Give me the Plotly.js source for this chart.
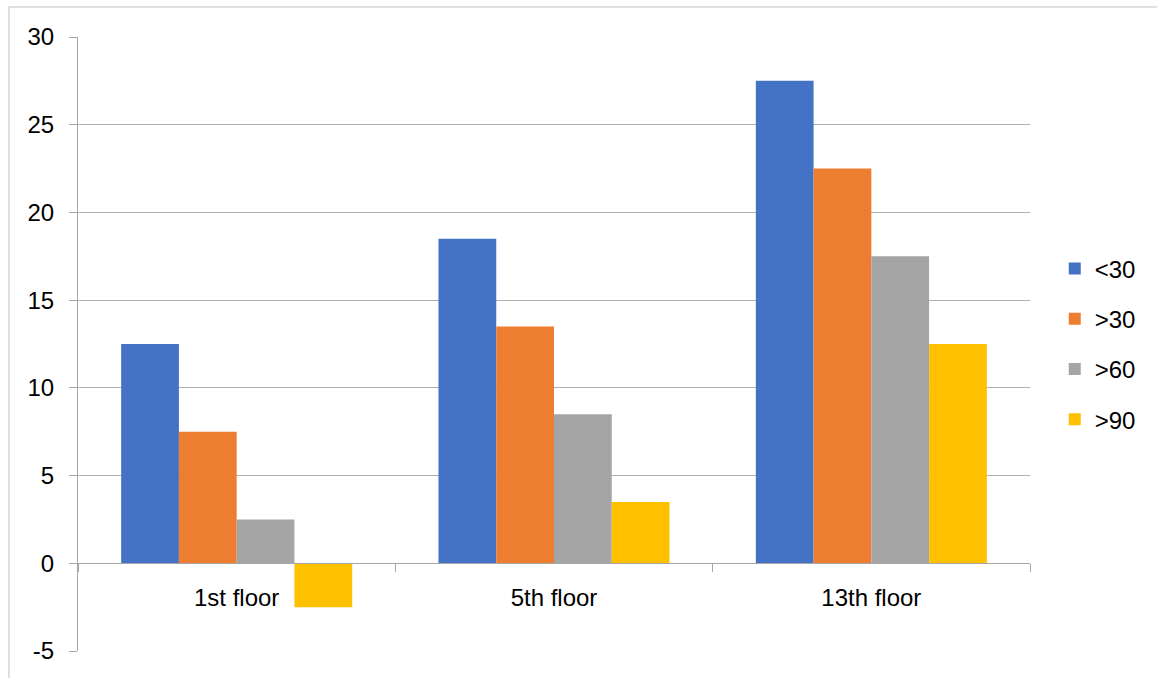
<!DOCTYPE html>
<html>
<head>
<meta charset="utf-8">
<script src="https://cdn.plot.ly/plotly-3.0.1.min.js"></script>
<style>
html,body{margin:0;padding:0;background:#fff;}
#chart{width:1157px;height:678px;}
</style>
</head>
<body>
<div id="chart"></div>
<script>
const categories = ["1st floor", "5th floor", "13th floor"];
const seriesNames = ["<30", ">30", ">60", ">90"];
const seriesLt30 = [12.5, 18.5, 27.5];
const seriesGt30 = [7.5, 13.5, 22.5];
const seriesGt60 = [2.5, 8.5, 17.5];
const seriesGt90 = [-2.5, 3.5, 12.5];
const colors = ["#4472C4", "#ED7D31", "#A5A5A5", "#FFC000"];
const yTicks = [-5, 0, 5, 10, 15, 20, 25, 30];

const allSeries = [seriesLt30, seriesGt30, seriesGt60, seriesGt90];
const traces = allSeries.map((vals, i) => ({
  type: "bar",
  name: seriesNames[i],
  x: categories,
  y: vals,
  marker: {color: colors[i], line: {width: 0}},
  legendgroup: "g" + i,
  hoverinfo: "x+y+name"
}));

const fontFam = "Liberation Sans, Arial, sans-serif";
const layout = {
  width: 1157,
  height: 678,
  margin: {l: 78, r: 127, t: 37, b: 27, pad: 0},
  paper_bgcolor: "#ffffff",
  plot_bgcolor: "#ffffff",
  barmode: "group",
  bargap: 0.272,
  bargroupgap: 0,
  font: {family: fontFam, size: 24, color: "#000000"},
  showlegend: true,
  legend: {
    x: 1.026, xanchor: "left",
    y: 0.5, yanchor: "middle",
    traceorder: "grouped",
    tracegroupgap: 16,
    font: {family: fontFam, size: 24, color: "#000"},
    itemwidth: 30,
    bgcolor: "rgba(0,0,0,0)"
  },
  xaxis: {
    type: "category",
    anchor: "free",
    position: 5 / 35,
    showline: true,
    linecolor: "#A6A6A6",
    linewidth: 1,
    ticks: "outside",
    tickson: "boundaries",
    ticklen: 8,
    tickcolor: "#A6A6A6",
    showgrid: false,
    zeroline: false,
    tickfont: {family: fontFam, size: 24, color: "#000"},
    ticklabelstandoff: 13
  },
  yaxis: {
    range: [-5, 30],
    tickvals: yTicks,
    ticktext: yTicks.map(String),
    showline: true,
    linecolor: "#A6A6A6",
    linewidth: 1,
    ticks: "outside",
    ticklen: 8,
    tickcolor: "#A6A6A6",
    showgrid: true,
    gridcolor: "#B0B0B0",
    gridwidth: 1,
    zeroline: false,
    tickfont: {family: fontFam, size: 24, color: "#000"},
    ticklabelstandoff: 10
  },
  shapes: [{
    type: "rect", xref: "paper", yref: "paper",
    x0: -0.0725, x1: 1.16, y0: -0.08, y1: 1.0489,
    line: {color: "#C0C0C0", width: 1},
    fillcolor: "rgba(0,0,0,0)",
    layer: "below"
  }]
};

Plotly.newPlot("chart", traces, layout, {displayModeBar: false, staticPlot: true});
</script>
</body>
</html>
